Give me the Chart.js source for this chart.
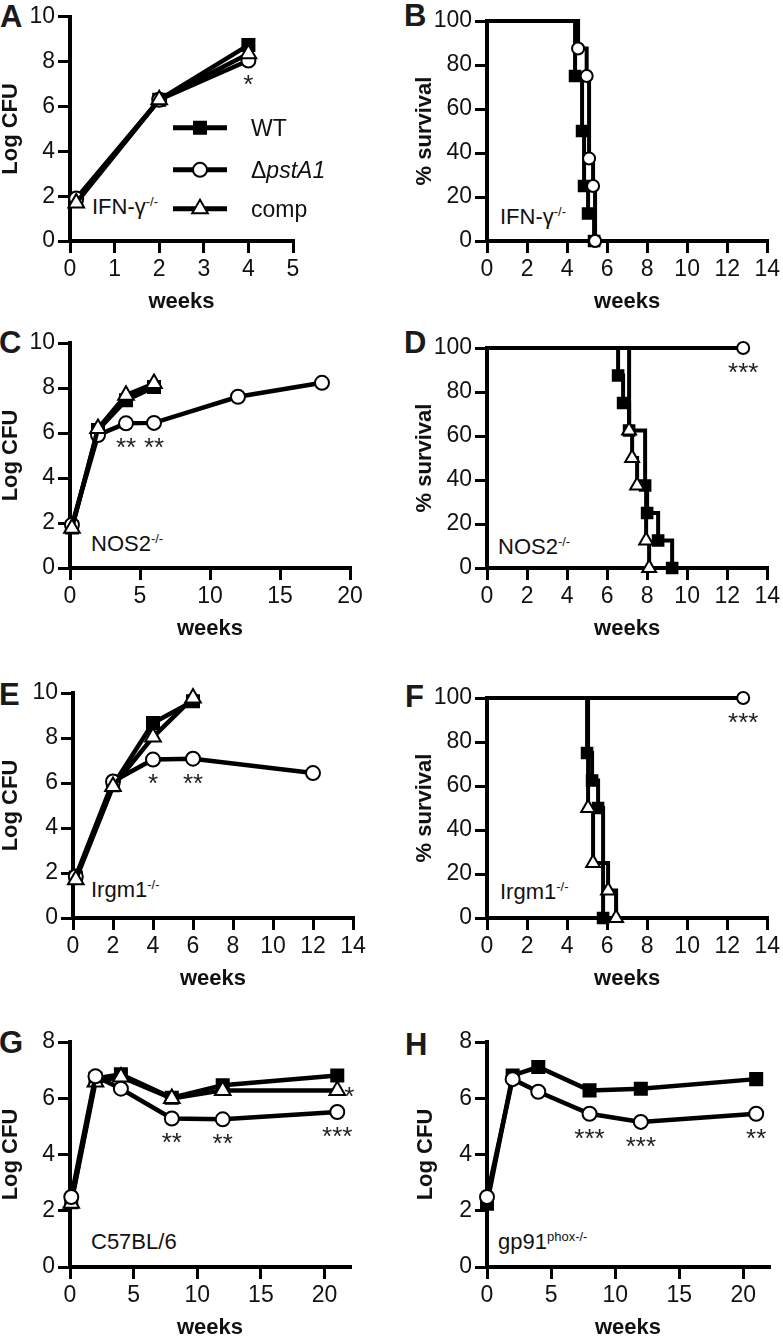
<!DOCTYPE html>
<html>
<head>
<meta charset="utf-8">
<script src="https://cdn.jsdelivr.net/npm/chart.js@4.4.1/dist/chart.umd.min.js"></script>
<style>
  html, body { margin: 0; padding: 0; background: #fff; overflow: hidden; }
  body { width: 783px; height: 1336px; position: relative; font-family: "Liberation Sans", Arial, sans-serif; color: #111; }
  canvas { position: absolute; }
  .letter { position: absolute; font-weight: bold; font-size: 31px; line-height: 31px; color: #1a1a1a; }
  .strain { position: absolute; font-size: 22px; line-height: 22px; white-space: nowrap; color: #111; }
  .strain sup { font-size: 13px; vertical-align: 8px; line-height: 0; }
</style>
</head>
<body>

<div class="letter" style="left:0px;top:1px">A</div>
<div class="letter" style="left:404px;top:0px">B</div>
<div class="letter" style="left:-1px;top:327px">C</div>
<div class="letter" style="left:404px;top:327px">D</div>
<div class="letter" style="left:-1px;top:679px">E</div>
<div class="letter" style="left:405px;top:681px">F</div>
<div class="letter" style="left:-1px;top:1027px">G</div>
<div class="letter" style="left:405px;top:1029px">H</div>

<div class="strain" style="left:92px;top:196px">IFN-γ<sup>-/-</sup></div>
<div class="strain" style="left:500px;top:206px">IFN-γ<sup>-/-</sup></div>
<div class="strain" style="left:91px;top:533px">NOS2<sup>-/-</sup></div>
<div class="strain" style="left:498px;top:536px">NOS2<sup>-/-</sup></div>
<div class="strain" style="left:91px;top:879px">Irgm1<sup>-/-</sup></div>
<div class="strain" style="left:500px;top:881px">Irgm1<sup>-/-</sup></div>
<div class="strain" style="left:91px;top:1231px">C57BL/6</div>
<div class="strain" style="left:498px;top:1231px">gp91<sup>phox-/-</sup></div>

<script>
// ---- Log CFU (lung) ----
const weeksA = [0.14, 2, 4];
const cfuA_wt = [1.8, 6.3, 8.74];
const cfuA_pst = [1.9, 6.3, 8.05];
const cfuA_comp = [1.7, 6.3, 8.35];

const weeksC = [0.14, 2, 4, 6];
const weeksC_pst = [0.14, 2, 4, 6, 12, 18];
const cfuC_wt = [1.8, 6.13, 7.46, 8.04];
const cfuC_pst = [1.92, 5.91, 6.43, 6.45, 7.61, 8.23];
const cfuC_comp = [1.77, 6.2, 7.68, 8.2];

const weeksE = [0.14, 2, 4, 6];
const weeksE_pst = [0.14, 2, 4, 6, 12];
const cfuE_wt = [1.8, 5.9, 8.67, 9.63];
const cfuE_pst = [1.85, 6.07, 7.04, 7.08, 6.44];
const cfuE_comp = [1.7, 5.85, 8.04, 9.78];

const weeksG = [0.1, 2, 4, 8, 12, 21];
const cfuG_wt = [2.3, 6.7, 6.85, 6.02, 6.46, 6.81];
const cfuG_pst = [2.49, 6.78, 6.34, 5.28, 5.25, 5.51];
const cfuG_comp = [2.27, 6.58, 6.76, 5.99, 6.28, 6.28];

const weeksH = [0, 2, 4, 8, 12, 21];
const cfuH_wt = [2.25, 6.81, 7.11, 6.28, 6.34, 6.68];
const cfuH_pst = [2.49, 6.68, 6.23, 5.45, 5.16, 5.45];

// ---- % survival (Kaplan-Meier steps) ----
const survB_wt_t = [0, 4.4, 4.75, 4.85, 5.05, 5.35];
const survB_wt = [100, 75, 50, 25, 12.5, 0];
const survB_pst_t = [0, 4.55, 4.98, 5.1, 5.3, 5.4];
const survB_pst = [100, 87.5, 75, 37.5, 25, 0];

const survD_wt_t = [0, 6.55, 6.8, 7.1, 7.9, 8.0, 8.55, 9.25];
const survD_wt = [100, 87.5, 75, 62.5, 37.5, 25, 12.5, 0];
const survD_comp_t = [0, 7.1, 7.25, 7.5, 7.95, 8.1];
const survD_comp = [100, 62.5, 50, 37.5, 12.5, 0];
const survD_pst_t = [0, 12.8];
const survD_pst = [100, 100];

const survF_wt_t = [0, 5.0, 5.25, 5.55, 5.8];
const survF_wt = [100, 75, 62.5, 50, 0];
const survF_comp_t = [0, 5.05, 5.3, 6.05, 6.45];
const survF_comp = [100, 50, 25, 12.5, 0];
const survF_pst_t = [0, 12.8];
const survF_pst = [100, 100];

// ---- ticks ----
const xTicks5 = [0, 1, 2, 3, 4, 5];
const xTicks14 = [0, 2, 4, 6, 8, 10, 12, 14];
const xTicks20 = [0, 5, 10, 15, 20];
const yTicksCfu10 = [0, 2, 4, 6, 8, 10];
const yTicksCfu8 = [0, 2, 4, 6, 8];
const yTicksSurv = [0, 20, 40, 60, 80, 100];

// ---- labels / significance ----
const legendLabels = ['WT', 'ΔpstA1', 'comp'];
const starsA = [{ x: 4, text: '*' }];
const starsC = [{ x: 4, text: '**' }, { x: 6, text: '**' }];
const starsD = [{ x: 12.8, text: '***' }];
const starsE = [{ x: 4, text: '*' }, { x: 6, text: '**' }];
const starsF = [{ x: 12.8, text: '***' }];
const starsG = [{ x: 8, text: '**' }, { x: 12, text: '**' }, { x: 21, text: '***' }];
const starsGcomp = [{ x: 21, text: '*' }];
const starsH = [{ x: 8, text: '***' }, { x: 12, text: '***' }, { x: 21, text: '**' }];

const FONT = '"Liberation Sans", Arial, sans-serif';
const INK = '#111';

const KIND = {
  wt:   { label: 'WT',     pointStyle: 'rect',     fill: '#000' },
  pst:  { label: 'ΔpstA1', pointStyle: 'circle',   fill: '#fff' },
  comp: { label: 'comp',   pointStyle: 'triangle', fill: '#fff' },
};
const R_CFU = { wt: 8.5, pst: 7, comp: 9 };
const R_SURV = { wt: 7.5, pst: 6, comp: 8 };

function series(kind, xs, ys, survival) {
  const k = KIND[kind];
  const r = (survival ? R_SURV : R_CFU)[kind];
  return {
    label: k.label,
    data: xs.map((x, i) => ({ x, y: ys[i] })),
    borderColor: '#000',
    borderWidth: survival ? 4 : 4.5,
    pointStyle: k.pointStyle,
    pointRadius: xs.map((x, i) => (survival && i === 0 ? 0 : r)),
    pointBackgroundColor: k.fill,
    pointBorderColor: '#000',
    pointBorderWidth: 2,
    stepped: survival ? 'before' : false,
    tension: 0,
    clip: false,
  };
}

// own marker drawing for the in-panel legend
function marker(ctx, kind, x, y, r) {
  ctx.beginPath();
  if (kind === 'wt') {
    const s = r * Math.SQRT1_2;
    ctx.rect(x - s, y - s, 2 * s, 2 * s);
  } else if (kind === 'pst') {
    ctx.arc(x, y, r, 0, Math.PI * 2);
  } else {
    for (let i = 0; i < 3; i++) {
      const a = i * 2 * Math.PI / 3;
      const px = x + Math.sin(a) * r, py = y - Math.cos(a) * r;
      i ? ctx.lineTo(px, py) : ctx.moveTo(px, py);
    }
    ctx.closePath();
  }
  ctx.fillStyle = KIND[kind].fill;
  ctx.fill();
  ctx.lineWidth = 2;
  ctx.strokeStyle = '#000';
  ctx.stroke();
}

const STAR_SIZE = 26;
const annotPlugin = {
  id: 'annot',
  afterDatasetsDraw(chart, args, opts) {
    const ctx = chart.ctx;
    ctx.save();
    ctx.font = STAR_SIZE + 'px ' + FONT;
    ctx.fillStyle = '#222';
    ctx.textAlign = 'center';
    ctx.textBaseline = 'alphabetic';
    const lift = STAR_SIZE * 0.57;
    const pointOf = (label, x) => {
      const di = chart.data.datasets.findIndex(d => d.label === label);
      const j = chart.data.datasets[di].data.findIndex(p => p.x === x);
      return chart.getDatasetMeta(di).data[j];
    };
    (opts.stars || []).forEach(s => {
      const p = pointOf('ΔpstA1', s.x);
      ctx.fillText(s.text, p.x, p.y + 18 + lift);
    });
    (opts.sideStars || []).forEach(s => {
      const p = pointOf('comp', s.x);
      ctx.textAlign = 'left';
      ctx.fillText(s.text, p.x + 7, p.y + lift);
    });
    if (opts.legend) {
      const a = chart.chartArea;
      const rows = [['wt', 111], ['pst', 153], ['comp', 192]];
      rows.forEach(([kind, dy], i) => {
        const y = a.top + dy;
        ctx.beginPath();
        ctx.moveTo(a.left + 103, y);
        ctx.lineTo(a.left + 157, y);
        ctx.lineWidth = 5;
        ctx.strokeStyle = '#000';
        ctx.stroke();
        marker(ctx, kind, a.left + 130, y, R_CFU[kind]);
        ctx.fillStyle = INK;
        ctx.textAlign = 'left';
        const tx = a.left + 181, ty = y + 8;
        const lbl = legendLabels[i];
        ctx.font = '23px ' + FONT;
        if (lbl.startsWith('Δ')) {
          ctx.fillText('Δ', tx, ty);
          const w = ctx.measureText('Δ').width;
          ctx.font = 'italic 23px ' + FONT;
          ctx.fillText(lbl.slice(1), tx + w, ty);
        } else {
          ctx.fillText(lbl, tx, ty);
        }
      });
    }
    ctx.restore();
  }
};

function axis(ticks, min, max, fit) {
  return {
    type: 'linear', min, max,
    afterBuildTicks: s => { s.ticks = ticks.map(v => ({ value: v })); },
    afterFit: fit,
    grid: { drawOnChartArea: false, drawTicks: true, tickLength: 12, lineWidth: 3, color: '#000' },
    border: { display: true, width: 4, color: '#000' },
    ticks: { font: { family: FONT, size: 23 }, color: INK, autoSkip: false, maxRotation: 0 },
  };
}

// area = chart area in page pixels, box = canvas in page pixels
function panel({ box, area, titleX, xTicks, xMax, yTicks, yMax, yTitle, datasets, annot }) {
  const cv = document.createElement('canvas');
  cv.width = box.w; cv.height = box.h;
  cv.style.left = box.x + 'px'; cv.style.top = box.y + 'px';
  document.body.appendChild(cv);

  const padLeft = titleX - box.x - 11;
  const yWidth = area.L - box.x - padLeft;
  const xHeight = box.y + box.h - area.B;

  const x = axis(xTicks, 0, xMax, s => { s.height = xHeight; });
  x.ticks.padding = 3;
  x.title = { display: true, text: 'weeks', color: INK, padding: 0,
              font: { family: FONT, size: 22, weight: 'bold', lineHeight: 1 } };
  const y = axis(yTicks, 0, yMax, s => { s.width = yWidth; });
  y.ticks.padding = 3;
  y.title = { display: true, text: yTitle, color: INK, padding: 0,
              font: { family: FONT, size: 22, weight: 'bold', lineHeight: 1 } };

  return new Chart(cv, {
    type: 'line',
    data: { datasets },
    options: {
      responsive: false, animation: false, devicePixelRatio: 1, events: [],
      layout: { padding: { left: padLeft, top: area.T - box.y, right: box.x + box.w - area.R, bottom: 0 } },
      scales: { x, y },
      plugins: { legend: { display: false }, tooltip: { enabled: false }, annot },
    },
    plugins: [annotPlugin],
  });
}

const LEFT = { x: 0, w: 390 }, RIGHT = { x: 390, w: 393 };

// A
panel({
  box: { ...LEFT, y: 0, h: 313 }, area: { L: 70, T: 16, R: 293, B: 241 }, titleX: 11,
  xTicks: xTicks5, xMax: 5, yTicks: yTicksCfu10, yMax: 10, yTitle: 'Log CFU',
  datasets: [series('comp', weeksA, cfuA_comp), series('pst', weeksA, cfuA_pst), series('wt', weeksA, cfuA_wt)],
  annot: { stars: starsA, legend: true },
});
// B
panel({
  box: { ...RIGHT, y: 0, h: 313 }, area: { L: 487, T: 21, R: 768, B: 241 }, titleX: 425,
  xTicks: xTicks14, xMax: 14, yTicks: yTicksSurv, yMax: 100, yTitle: '% survival',
  datasets: [series('pst', survB_pst_t, survB_pst, true), series('wt', survB_wt_t, survB_wt, true)],
  annot: {},
});
// C
panel({
  box: { ...LEFT, y: 320, h: 320 }, area: { L: 70, T: 343, R: 350, B: 568 }, titleX: 11,
  xTicks: xTicks20, xMax: 20, yTicks: yTicksCfu10, yMax: 10, yTitle: 'Log CFU',
  datasets: [series('comp', weeksC, cfuC_comp), series('pst', weeksC_pst, cfuC_pst), series('wt', weeksC, cfuC_wt)],
  annot: { stars: starsC },
});
// D
panel({
  box: { ...RIGHT, y: 320, h: 320 }, area: { L: 487, T: 348, R: 768, B: 568 }, titleX: 425,
  xTicks: xTicks14, xMax: 14, yTicks: yTicksSurv, yMax: 100, yTitle: '% survival',
  datasets: [series('comp', survD_comp_t, survD_comp, true), series('pst', survD_pst_t, survD_pst, true), series('wt', survD_wt_t, survD_wt, true)],
  annot: { stars: starsD },
});
// E
panel({
  box: { ...LEFT, y: 670, h: 320 }, area: { L: 73, T: 693, R: 353, B: 918 }, titleX: 11,
  xTicks: xTicks14, xMax: 14, yTicks: yTicksCfu10, yMax: 10, yTitle: 'Log CFU',
  datasets: [series('comp', weeksE, cfuE_comp), series('pst', weeksE_pst, cfuE_pst), series('wt', weeksE, cfuE_wt)],
  annot: { stars: starsE },
});
// F
panel({
  box: { ...RIGHT, y: 670, h: 320 }, area: { L: 487, T: 698, R: 768, B: 918 }, titleX: 425,
  xTicks: xTicks14, xMax: 14, yTicks: yTicksSurv, yMax: 100, yTitle: '% survival',
  datasets: [series('comp', survF_comp_t, survF_comp, true), series('pst', survF_pst_t, survF_pst, true), series('wt', survF_wt_t, survF_wt, true)],
  annot: { stars: starsF },
});
// G
panel({
  box: { ...LEFT, y: 1020, h: 319 }, area: { L: 70, T: 1042, R: 350, B: 1267 }, titleX: 11,
  xTicks: xTicks20, xMax: 22, yTicks: yTicksCfu8, yMax: 8, yTitle: 'Log CFU',
  datasets: [series('pst', weeksG, cfuG_pst), series('comp', weeksG, cfuG_comp), series('wt', weeksG, cfuG_wt)],
  annot: { stars: starsG, sideStars: starsGcomp },
});
// H
panel({
  box: { ...RIGHT, y: 1020, h: 319 }, area: { L: 487, T: 1042, R: 769, B: 1267 }, titleX: 426,
  xTicks: xTicks20, xMax: 22, yTicks: yTicksCfu8, yMax: 8, yTitle: 'Log CFU',
  datasets: [series('pst', weeksH, cfuH_pst), series('wt', weeksH, cfuH_wt)],
  annot: { stars: starsH },
});
</script>
</body>
</html>
